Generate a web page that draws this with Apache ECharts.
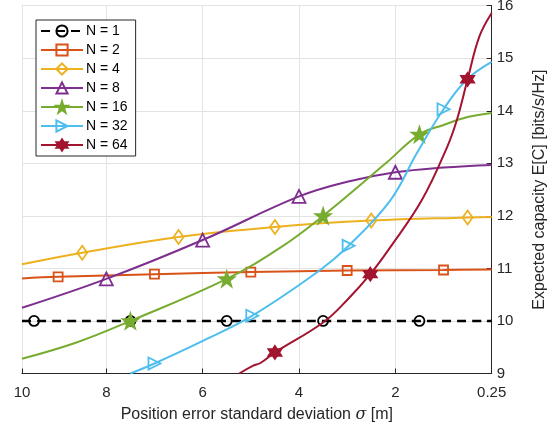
<!DOCTYPE html>
<html><head><meta charset="utf-8">
<script src="https://cdn.jsdelivr.net/npm/echarts@6/dist/echarts.min.js"></script>
<style>html,body{margin:0;padding:0;background:#fff}#c{width:559px;height:431px}</style>
</head><body><div id="c"></div><script>
// Categories / labels
const seriesNames = ['N = 1', 'N = 2', 'N = 4', 'N = 8', 'N = 16', 'N = 32', 'N = 64'];
const xTickValues = [0, 2, 4, 6, 8, 9.75];
const xTickLabels = ['0.25', '2', '4', '6', '8', '10'];
const yTickLabels = [9, 10, 11, 12, 13, 14, 15, 16];

// Series values (x in axis units, y = expected capacity)
const n1X = [9.75, 9.5, 7.5, 5.5, 3.5, 1.5, 0];
const n1Y = [10, 10, 10, 10, 10, 10, 10];
const n1M = [9.5, 7.5, 5.5, 3.5, 1.5];

const n2X = [9.75, 9, 7, 5, 3, 1, 0];
const n2Y = [10.81, 10.84, 10.89, 10.93, 10.96, 10.97, 10.98];
const n2M = [9, 7, 5, 3, 1];

const n4X = [9.75, 8.5, 6.5, 4.5, 2.5, 0.5, 0];
const n4Y = [11.08, 11.30, 11.60, 11.79, 11.91, 11.97, 11.98];
const n4M = [8.5, 6.5, 4.5, 2.5, 0.5];

const n8X = [9.75, 8, 6, 4, 3, 2, 1, 0];
const n8Y = [10.25, 10.80, 11.54, 12.37, 12.65, 12.83, 12.92, 12.97];
const n8M = [8, 6, 4, 2];

const n16X = [9.75, 8.62, 7.5, 5.5, 4.38, 3.5, 2.2, 1.5, 1.0, 0.5, 0];
const n16Y = [9.28, 9.59, 10.0, 10.80, 11.40, 12.0, 13.0, 13.55, 13.73, 13.88, 13.96];
const n16M = [7.5, 5.5, 3.5, 1.5];

const n32X = [7.5, 7, 6.04, 4.97, 3.56, 2.97, 2.1, 1.55, 1.0, 0.52, 0];
const n32Y = [9.0, 9.19, 9.6, 10.10, 10.97, 11.43, 12.30, 13.2, 14.03, 14.59, 14.93];
const n32M = [7, 4.97, 2.97, 1.0];

const n64X = [5.24, 4.95, 4.8, 4.5, 3.5, 3.0, 2.52, 2.1, 1.45, 0.93, 0.725, 0.5, 0.257, 0];
const n64Y = [9.0, 9.15, 9.2, 9.40, 9.97, 10.40, 10.89, 11.41, 12.30, 13.3, 13.82, 14.60, 15.41, 15.86];
const n64M = [4.5, 2.52, 0.5];

const colors = ['#000000', '#D95319', '#EDB120', '#7E2F8E', '#77AC30', '#4DBEEE', '#A2142F'];
const STAR = 'path://M50,0 L61.8,35.1 L98.9,35.1 L69.1,56.7 L80.3,91.9 L50,70.2 L19.7,91.9 L30.9,56.7 L1.1,35.1 L38.2,35.1 Z';
const HEX = 'path://M50,0 L64.4,25 L93.3,25 L78.9,50 L93.3,75 L64.4,75 L50,100 L35.6,75 L6.7,75 L21.1,50 L6.7,25 L35.6,25 Z';
const RTRI = 'path://M0,0 L100,50 L0,100 Z';

const defs = [
  {x: n1X, y: n1Y, m: n1M, symbol: 'circle', size: 10, fill: false, dash: [9, 6], width: 2.5},
  {x: n2X, y: n2Y, m: n2M, symbol: 'rect', size: 9, fill: false},
  {x: n4X, y: n4Y, m: n4M, symbol: 'diamond', size: [10, 14], fill: false},
  {x: n8X, y: n8Y, m: n8M, symbol: 'triangle', size: 13, fill: false},
  {x: n16X, y: n16Y, m: n16M, symbol: STAR, size: 15, fill: true},
  {x: n32X, y: n32Y, m: n32M, symbol: RTRI, size: 12, fill: false},
  {x: n64X, y: n64Y, m: n64M, symbol: HEX, size: 13, fill: true}
];

const FONT = 'Liberation Sans, Arial, Helvetica, sans-serif';
const series = defs.map((d, i) => ({
  name: seriesNames[i],
  type: 'line',
  smooth: 0.4,
  symbol: d.symbol,
  symbolSize: d.size,
  showSymbol: true,
  clip: true,
  z: 2 + i,
  lineStyle: {color: colors[i], width: d.width || 2, type: d.dash || 'solid'},
  itemStyle: {color: d.fill ? colors[i] : 'rgba(255,255,255,0)', borderColor: colors[i], borderWidth: 1.8},
  emphasis: {disabled: true},
  data: d.x.map((xv, k) => d.m.indexOf(xv) >= 0 ? {value: [xv, d.y[k]]} : {value: [xv, d.y[k]], symbol: 'none'})
}));

const chart = echarts.init(document.getElementById('c'), null, {renderer: 'canvas'});
chart.setOption({
  animation: false,
  backgroundColor: '#ffffff',
  textStyle: {fontFamily: FONT},
  grid: {left: 22, right: 67.3, top: 5.7, bottom: 57.5, containLabel: false, outerBoundsMode: 'none'},
  legend: {
    orient: 'vertical', left: 36, top: 20,
    data: seriesNames,
    itemWidth: 42, itemHeight: 14, itemGap: 5,
    padding: [4, 8, 4, 4],
    backgroundColor: '#ffffff', borderColor: '#262626', borderWidth: 1,
    textStyle: {fontFamily: FONT, fontSize: 14, color: '#000', padding: [0, 0, 0, -2]},
    selectedMode: false
  },
  xAxis: {
    type: 'value', inverse: true, min: 0, max: 9.75, interval: 2,
    name: 'Position error standard deviation {i|σ} [m]',
    nameLocation: 'middle', nameGap: 33,
    nameTextStyle: {fontFamily: FONT, fontSize: 16, color: '#262626',
      rich: {i: {fontFamily: 'DejaVu Serif, serif', fontStyle: 'italic', fontSize: 16, color: '#262626'}}},
    axisLine: {show: true, lineStyle: {color: '#262626', width: 1}},
    axisTick: {show: true, inside: true, length: 5, lineStyle: {color: '#262626'}},
    axisLabel: {fontFamily: FONT, fontSize: 15, color: '#262626', margin: 12,
      showMinLabel: true, showMaxLabel: true, hideOverlap: false,
      formatter: v => { const k = xTickValues.findIndex(t => Math.abs(t - v) < 1e-6); return k >= 0 ? xTickLabels[k] : ''; }},
    splitLine: {show: true, lineStyle: {color: '#e3e3e3', width: 1}}
  },
  yAxis: {
    type: 'value', position: 'right', min: yTickLabels[0], max: yTickLabels[yTickLabels.length - 1], interval: 1,
    name: 'Expected capacity E[C] [bits/s/Hz]',
    nameLocation: 'middle', nameGap: 40, nameRotate: 90,
    nameTextStyle: {fontFamily: FONT, fontSize: 16, color: '#262626'},
    axisLine: {show: true, lineStyle: {color: '#262626', width: 1}},
    axisTick: {show: true, inside: true, length: 5, lineStyle: {color: '#262626'}},
    axisLabel: {fontFamily: FONT, fontSize: 15, color: '#262626', margin: 5, showMinLabel: true, showMaxLabel: true},
    splitLine: {show: true, lineStyle: {color: '#e3e3e3', width: 1}}
  },
  series: series
});
</script></body></html>
